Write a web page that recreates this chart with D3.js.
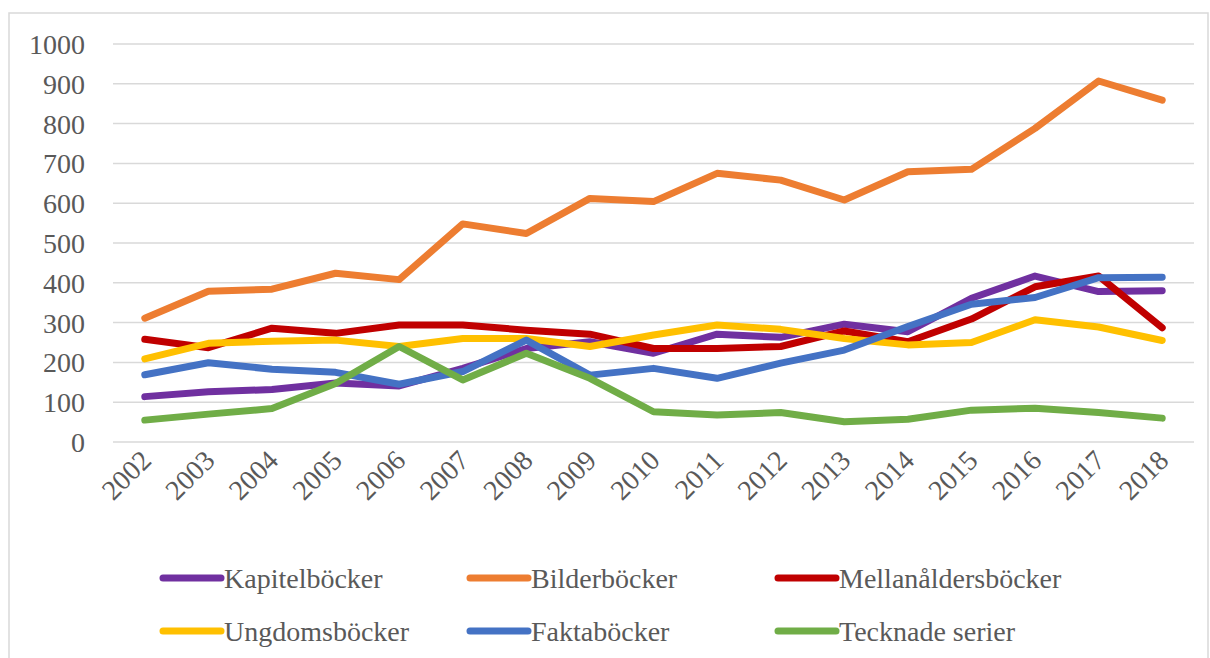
<!DOCTYPE html>
<html><head><meta charset="utf-8">
<script src="https://cdn.jsdelivr.net/npm/d3@7"></script>
<style>body{margin:0;background:#fff}svg{display:block}</style>
</head><body><svg id="c" width="1210" height="658"></svg>
<script>
const years = ["2002","2003","2004","2005","2006","2007","2008","2009","2010","2011","2012","2013","2014","2015","2016","2017","2018"];
const yTicks = [0,100,200,300,400,500,600,700,800,900,1000];
const seriesNames = ["Kapitelböcker","Bilderböcker","Mellanåldersböcker","Ungdomsböcker","Faktaböcker","Tecknade serier"];
const seriesColors = ["#7030A0","#ED7D31","#C00000","#FFC000","#4472C4","#70AD47"];
const kapitel = [114,126,132,148,141,185,235,252,223,271,263,296,277,361,417,378,380];
const bilder  = [311,379,384,424,408,548,524,612,604,675,658,608,679,685,788,907,859];
const mellan  = [258,237,286,273,294,294,281,271,235,235,240,279,252,309,390,417,287];
const ungdom  = [209,248,253,256,240,260,260,240,269,294,283,260,244,250,307,289,255];
const fakta   = [169,199,183,175,145,177,256,168,185,160,198,231,290,346,363,413,414];
const tecknade= [55,70,84,147,240,156,223,160,76,68,74,51,57,80,85,74,60];
const seriesValues = [kapitel,bilder,mellan,ungdom,fakta,tecknade];

const svg = d3.select("#c");
const font = '"Liberation Serif", "DejaVu Serif", "Noto Serif", "Times New Roman", serif';
svg.append("rect").attr("x",9).attr("y",13).attr("width",1199).attr("height",660)
  .attr("fill","#fff").attr("stroke","#d9d9d9").attr("stroke-width",1.5);

const x = d3.scaleBand().domain(years).range([113,1194]);
const y = d3.scaleLinear().domain([0,1000]).range([442,44]);

const grid = svg.append("g");
grid.selectAll("line").data(yTicks).join("line")
  .attr("x1",113).attr("x2",1194).attr("y1",d=>y(d)).attr("y2",d=>y(d))
  .attr("stroke","#d9d9d9").attr("stroke-width",1.5);

const yAxis = svg.append("g").attr("transform","translate(113,0)")
  .call(d3.axisLeft(y).tickValues(yTicks).tickFormat(d3.format("d")).tickSize(0).tickPadding(28));
yAxis.select(".domain").remove();
yAxis.attr("font-family",null).attr("font-size",null);
yAxis.selectAll("text").style("font-family",font).style("font-size","28px").attr("fill","#595959").attr("dy","0.34em");

const xAxis = svg.append("g").attr("transform","translate(0,442)")
  .call(d3.axisBottom(x).tickSize(0).tickPadding(0));
xAxis.select(".domain").remove();
xAxis.attr("font-family",null).attr("font-size",null);
xAxis.selectAll("text").style("font-family",font).style("font-size","28px").attr("fill","#595959")
  .attr("text-anchor","end").attr("dy",null).attr("y",0)
  .attr("transform","translate(8,20) rotate(-45)");

const line = d3.line().x((d,i)=>x(years[i])+x.bandwidth()/2).y(d=>y(d));
svg.append("g").selectAll("path").data(seriesValues).join("path")
  .attr("d",line).attr("fill","none").attr("stroke",(d,i)=>seriesColors[i])
  .attr("stroke-width",7).attr("stroke-linecap","round").attr("stroke-linejoin","round");

const legX = [163,470,778], legY=[578,631];
const leg = svg.append("g").selectAll("g").data(seriesNames).join("g")
  .attr("transform",(d,i)=>`translate(${legX[i%3]},${legY[Math.floor(i/3)]})`);
leg.append("line").attr("x1",0).attr("x2",58).attr("y1",0).attr("y2",0)
  .attr("stroke",(d,i)=>seriesColors[i]).attr("stroke-width",7).attr("stroke-linecap","round");
leg.append("text").attr("x",61).attr("y",0).attr("dy","0.34em").text(d=>d)
  .style("font-family",font).style("font-size","28px").attr("fill","#595959");
</script></body></html>
